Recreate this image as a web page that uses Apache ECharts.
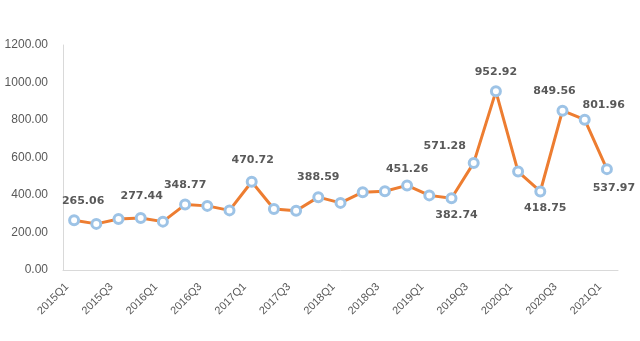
<!DOCTYPE html>
<html>
<head>
<meta charset="utf-8">
<script src="https://cdn.jsdelivr.net/npm/echarts@6/dist/echarts.min.js"></script>
<style>
  html, body { margin: 0; padding: 0; background: #fff; }
  #chart { width: 640px; height: 341px; }
</style>
</head>
<body>
<div id="chart"></div>
<script>
// Quarterly values, 2015Q1 – 2021Q1
const quarters = [
  '2015Q1', '2015Q2', '2015Q3', '2015Q4',
  '2016Q1', '2016Q2', '2016Q3', '2016Q4',
  '2017Q1', '2017Q2', '2017Q3', '2017Q4',
  '2018Q1', '2018Q2', '2018Q3', '2018Q4',
  '2019Q1', '2019Q2', '2019Q3', '2019Q4',
  '2020Q1', '2020Q2', '2020Q3', '2020Q4',
  '2021Q1'
];
const values = [
  265.06, 246, 272, 277.44,
  258, 348.77, 342, 318,
  470.72, 325, 316, 388.59,
  358, 415, 420, 451.26,
  398, 382.74, 571.28, 952.92,
  525, 418.75, 849.56, 801.96,
  537.97
];
const yTicks = [0, 200, 400, 600, 800, 1000, 1200];

// Which points carry a value label, and where the label sits relative to the marker
const labelPlacement = {
  0:  { position: 'top',    offset: [9, 0] },
  3:  { position: 'top',    offset: [1, -2] },
  5:  { position: 'top',    offset: [0, 0] },
  8:  { position: 'top',    offset: [1, -2] },
  11: { position: 'top',    offset: [0, 0] },
  15: { position: 'top',    offset: [0, 3] },
  17: { position: 'bottom', offset: [5, -3] },
  18: { position: 'top',    offset: [-29, 3] },
  19: { position: 'top',    offset: [0, 0] },
  21: { position: 'bottom', offset: [5, -3] },
  22: { position: 'top',    offset: [-8, 0] },
  23: { position: 'top',    offset: [19, 5] },
  24: { position: 'bottom', offset: [7, 0] }
};

const seriesData = values.map((v, i) => {
  const p = labelPlacement[i];
  if (!p) return { value: v, label: { show: false } };
  return {
    value: v,
    label: {
      show: true,
      position: p.position,
      offset: p.offset,
      distance: 8,
      formatter: v.toFixed(2)
    }
  };
});

const chart = echarts.init(document.getElementById('chart'), null, { renderer: 'canvas' });
chart.setOption({
  animation: false,
  backgroundColor: '#ffffff',
  grid: { left: 63, right: 22, top: 45, bottom: 71, containLabel: false },
  xAxis: {
    type: 'category',
    data: quarters,
    boundaryGap: true,
    axisLine: { show: true, lineStyle: { color: '#d9d9d9', width: 1 } },
    axisTick: { show: false },
    axisLabel: {
      interval: 1,
      rotate: 45,
      color: '#595959',
      fontFamily: 'Liberation Sans, Arial, sans-serif',
      fontSize: 11,
      margin: 8,
      padding: [0, 10, 0, 0]
    },
    splitLine: { show: false }
  },
  yAxis: {
    type: 'value',
    min: yTicks[0],
    max: yTicks[yTicks.length - 1],
    interval: yTicks[1] - yTicks[0],
    axisLine: { show: true, lineStyle: { color: '#d9d9d9', width: 1 } },
    axisTick: { show: false },
    splitLine: { show: false },
    axisLabel: {
      color: '#595959',
      fontFamily: 'Liberation Sans, Arial, sans-serif',
      fontSize: 12,
      margin: 15,
      formatter: v => v.toFixed(2)
    }
  },
  series: [{
    type: 'line',
    data: seriesData,
    symbol: 'circle',
    symbolSize: 9,
    showAllSymbol: true,
    lineStyle: { color: '#ed7d31', width: 3 },
    itemStyle: { color: '#ffffff', borderColor: '#9dc3e6', borderWidth: 3 },
    label: {
      color: '#595959',
      fontFamily: 'DejaVu Sans, sans-serif',
      fontWeight: 'bold',
      fontSize: 11
    },
    z: 3
  }]
});
</script>
</body>
</html>
